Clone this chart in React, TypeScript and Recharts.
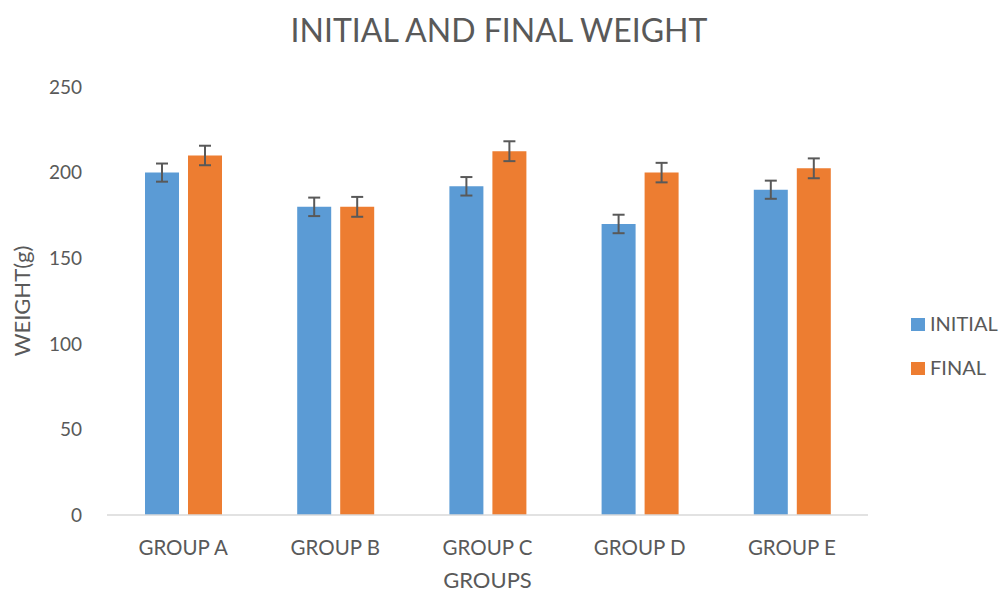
import React from 'react';
import { BarChart, Bar, XAxis, YAxis, Legend, ErrorBar, Label } from 'recharts';

const groups = ['GROUP A', 'GROUP B', 'GROUP C', 'GROUP D', 'GROUP E'];
const initialWeight = [200, 180, 192, 170, 190];
const finalWeight = [210, 180, 212.5, 200, 202.5];
const initialError = [5.3, 5.4, 5.4, 5.4, 5.3];
const finalError = [5.7, 5.8, 5.8, 5.7, 5.8];
const yTicks = [0, 50, 100, 150, 200, 250];
const seriesOrder = ['INITIAL', 'FINAL'];

const data = groups.map((g, i) => ({
  group: g,
  initial: initialWeight[i],
  final: finalWeight[i],
  initialErr: initialError[i],
  finalErr: finalError[i],
}));

const FONT = 'Lato, "Open Sans", sans-serif';
const TEXT = '#595959';

// keep legend in series order (recharts sorts it by name otherwise)
const LegendBox = ({ payload }: any) => {
  const items = [...(payload || [])].sort((a: any, b: any) => seriesOrder.indexOf(a.value) - seriesOrder.indexOf(b.value));
  return (
    <div style={{ fontFamily: FONT, fontSize: 20, color: TEXT }}>
      {items.map((p: any) => (
        <div key={p.value} style={{ height: 44, lineHeight: '44px', whiteSpace: 'nowrap' }}>
          <span style={{ display: 'inline-block', width: 14, height: 13, background: p.color, verticalAlign: 'middle', marginRight: 5, marginTop: -3 }} />
          {p.value}
        </div>
      ))}
    </div>
  );
};

export default function App() {
  return (
    <div style={{ position: 'absolute', left: 0, top: 0, width: 1000, height: 594, background: '#fff' }}>
      <div style={{ position: 'absolute', left: 0, top: 11, width: 998, textAlign: 'center', fontFamily: FONT, fontSize: 32, color: TEXT, lineHeight: '38px' }}>
        INITIAL AND FINAL WEIGHT
      </div>
      <BarChart width={1000} height={594} data={data} margin={{ top: 87, right: 132, bottom: 0, left: 0 }} barGap={9}>
        <XAxis
          dataKey="group"
          height={79}
          tickLine={false}
          axisLine={{ stroke: '#d9d9d9', strokeWidth: 1.5 }}
          tick={{ fill: TEXT, fontSize: 20.5, fontFamily: FONT }}
          tickSize={6}
          tickMargin={19}
        >
          <Label value="GROUPS" position="insideBottom" offset={6} style={{ fill: TEXT, fontSize: 22, fontFamily: FONT }} />
        </XAxis>
        <YAxis
          width={107}
          domain={[0, 250]}
          ticks={yTicks}
          tickLine={false}
          axisLine={false}
          tick={{ fill: TEXT, fontSize: 19, fontFamily: FONT }}
          tickSize={6}
          tickMargin={19}
        >
          <Label value="WEIGHT(g)" angle={-90} position="insideLeft" offset={22} style={{ fill: TEXT, fontSize: 22, fontFamily: FONT, textAnchor: 'middle' }} />
        </YAxis>
        <Legend layout="vertical" align="center" verticalAlign="middle" wrapperStyle={{ left: 911, top: 301, width: 89 }} content={<LegendBox />} />
        <Bar dataKey="initial" name="INITIAL" fill="#5B9BD5" barSize={34} isAnimationActive={false}>
          <ErrorBar dataKey="initialErr" width={6} stroke="#595959" strokeWidth={2} direction="y" />
        </Bar>
        <Bar dataKey="final" name="FINAL" fill="#ED7D31" barSize={34} isAnimationActive={false}>
          <ErrorBar dataKey="finalErr" width={6} stroke="#595959" strokeWidth={2} direction="y" />
        </Bar>
      </BarChart>
    </div>
  );
}
